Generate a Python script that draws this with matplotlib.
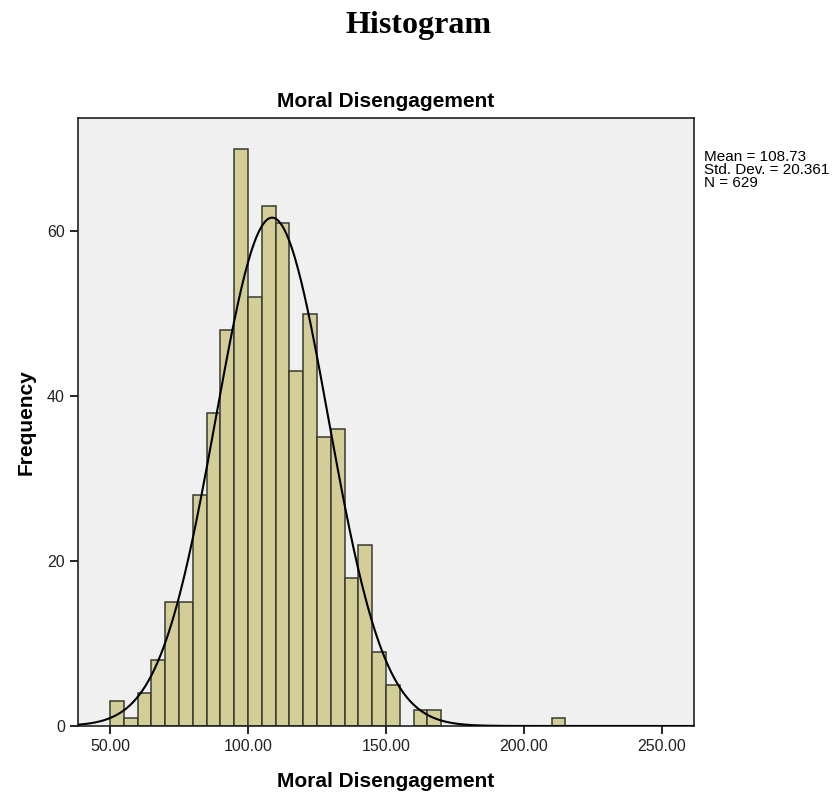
import numpy as np
import matplotlib
matplotlib.use("Agg")
import matplotlib.pyplot as plt

# Data
bin_edges_start = 50.0
bin_width = 5.0
counts = [3, 1, 4, 8, 15, 15, 28, 38, 48, 70, 52, 63, 61, 43, 50, 35, 36, 18, 22, 9,
          5, 0, 2, 2, 0, 0, 0, 0, 0, 0, 0, 0, 1]
mean_val = 108.73
std_val = 20.361
n_val = 629
x_ticks = [50, 100, 150, 200, 250]
y_ticks = [0, 20, 40, 60]

plt.rcParams['font.family'] = ['Liberation Sans', 'DejaVu Sans']

fig = plt.figure(figsize=(8.37, 7.96), dpi=100)
fig.patch.set_facecolor('white')
ax = fig.add_axes([78/837, 70/796, (694-78)/837, (726-118)/796])
ax.set_facecolor('#f0f0f0')

lefts = bin_edges_start + bin_width * np.arange(len(counts))
for l, c in zip(lefts, counts):
    if c > 0:
        ax.bar(l, c, width=bin_width, align='edge', color='#d3ce98',
               edgecolor='#3a3a32', linewidth=1.1, zorder=2)

ax.set_xlim(38.4, 261.6)
ax.set_ylim(0, 73.7)
xs = np.linspace(38.4, 261.6, 600)
ys = n_val * bin_width / (std_val * np.sqrt(2 * np.pi)) * np.exp(-0.5 * ((xs - mean_val) / std_val) ** 2)
ax.plot(xs, ys, color='black', linewidth=1.5, zorder=3)

ax.set_xticks(x_ticks)
ax.set_xticklabels([f"{v:.2f}" for v in x_ticks])
ax.set_yticks(y_ticks)
ax.tick_params(direction='out', length=6, width=1.2, labelsize=11.5, colors='black',
               labelcolor='#222222')
for s in ax.spines.values():
    s.set_linewidth(1.2)
    s.set_color('#222222')

ax.set_xlabel('Moral Disengagement', fontsize=15, fontweight='bold', labelpad=13)
ax.set_ylabel('Frequency', fontsize=15, fontweight='bold', labelpad=8)
ax.set_title('Moral Disengagement', fontsize=15, fontweight='bold', pad=8)

fig.text(0.5, 1 - 26/796, 'Histogram', ha='center', va='center',
         fontsize=23, fontweight='bold', family=['Liberation Serif', 'DejaVu Serif'])
fig.text(704/837, 1 - 150/796,
         f"Mean = {mean_val:.2f}\nStd. Dev. = {std_val:.3f}\nN = {n_val}",
         ha='left', va='top', fontsize=11, linespacing=0.9)

fig.savefig('out.png', dpi=100)
